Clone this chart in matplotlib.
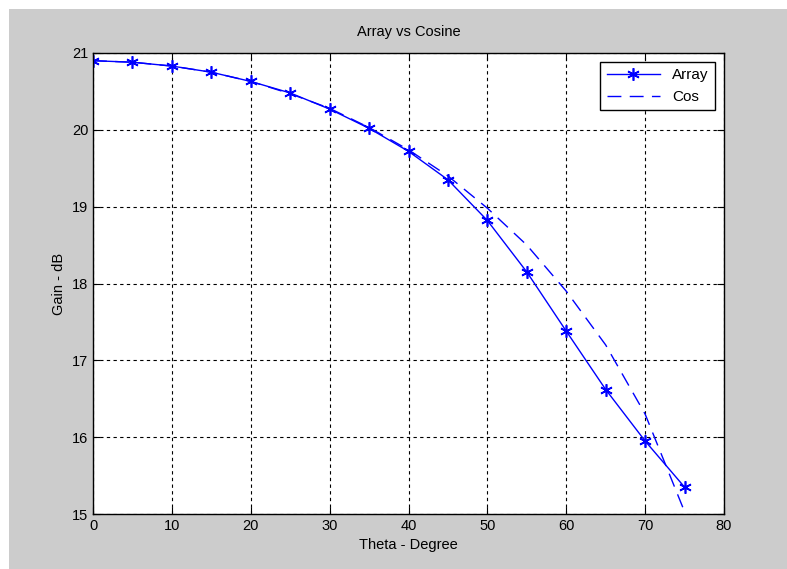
import matplotlib.pyplot as plt
from matplotlib.patches import Rectangle

theta = [0, 5, 10, 15, 20, 25, 30, 35, 40, 45, 50, 55, 60, 65, 70, 75]
array_gain = [20.90, 20.88, 20.83, 20.75, 20.63, 20.48, 20.27, 20.02,
              19.72, 19.35, 18.82, 18.15, 17.38, 16.62, 15.95, 15.35]
cos_gain = [20.90, 20.88, 20.83, 20.75, 20.63, 20.47, 20.28, 20.03,
            19.74, 19.40, 18.98, 18.50, 17.90, 17.20, 16.30, 15.03]

plt.rcParams['font.family'] = ['Liberation Sans', 'DejaVu Sans']
plt.rcParams['font.size'] = 10

fig = plt.figure(figsize=(7.87, 5.69), dpi=100)
fig.patch.set_facecolor('white')
fig.patches.append(Rectangle((9 / 787, 0), 1, 1 - 9 / 569, transform=fig.transFigure,
                             facecolor='#cccccc', edgecolor='none', zorder=-10))

ax = fig.add_axes([93 / 787, 55 / 569, (724 - 93) / 787, (514 - 53) / 569])
ax.set_facecolor('white')

# MATLAB-style asterisk marker
ax.plot(theta, array_gain, color='blue', lw=1, marker=(6, 2, 0), markersize=9,
        markeredgewidth=1.2, label='Array')
ax.plot(theta, cos_gain, color='blue', lw=1, linestyle=(0, (10, 6)), label='Cos')

ax.set_xlim(0, 80)
ax.set_ylim(15, 21)
ax.set_xticks(range(0, 81, 10))
ax.set_yticks(range(15, 22))
ax.grid(True, color='black', linestyle=(0, (3, 3)), linewidth=0.8)
ax.tick_params(direction='in', top=True, right=True, length=5, labelsize=10.5)
for s in ax.spines.values():
    s.set_linewidth(1)

ax.set_xlabel('Theta - Degree', fontsize=10.5)
ax.set_ylabel('Gain - dB', fontsize=10.5)
ax.set_title('Array vs Cosine', fontsize=10.5, pad=12)

leg = ax.legend(loc='upper right', fancybox=False, framealpha=1, edgecolor='black',
                handlelength=3.5, borderaxespad=0.6, fontsize=11)
leg.get_frame().set_linewidth(1)

fig.savefig('out.png', dpi=100, facecolor=fig.get_facecolor())
